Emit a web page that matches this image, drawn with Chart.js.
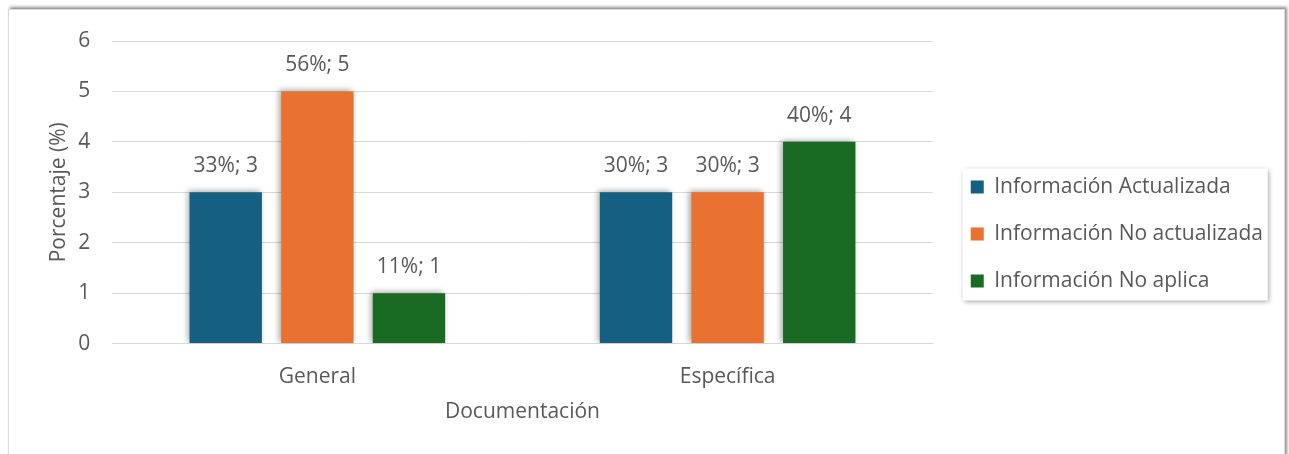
<!DOCTYPE html>
<html>
<head>
<meta charset="utf-8">
<script src="https://cdn.jsdelivr.net/npm/chart.js@4/dist/chart.umd.min.js"></script>
<style>
  html, body { margin: 0; padding: 0; background: #fff; }
  #wrap { position: relative; width: 1289px; height: 454px; overflow: hidden; }
  #frame {
    position: absolute; left: 8px; top: 9px; width: 1275px; height: 460px;
    border: 1px solid #d9d9d9;
    box-shadow: 2px -2px 3px rgba(0,0,0,0.45);
  }
  canvas { position: absolute; left: 0; top: 0; }
</style>
</head>
<body>
<div id="wrap">
  <div id="frame"></div>
  <canvas id="chart" width="1289" height="454"></canvas>
</div>
<script>
const categories = ["General", "Específica"];
const seriesNames = ["Información Actualizada", "Información No actualizada", "Información No aplica"];
const actualizada = [3, 3];
const noActualizada = [5, 3];
const noAplica = [1, 4];
const pctActualizada = [33, 30];
const pctNoActualizada = [56, 30];
const pctNoAplica = [11, 40];
const colors = ["#156082", "#E97132", "#196B24"];

const FONT = "'Open Sans', sans-serif";
const SIZE = 21;
const TEXT = "#595959";

// etiquetas "xx%; n" encima de cada barra
const barLabels = {
    id: "barLabels",
    beforeDatasetsDraw(chart) {
        const ctx = chart.ctx;
        ctx.save();
        ctx.shadowColor = "rgba(0,0,0,0.35)";
        ctx.shadowBlur = 6;
        ctx.shadowOffsetX = -2;
        ctx.shadowOffsetY = -1;
    },
    afterDatasetsDraw(chart) {
        const ctx = chart.ctx;
        ctx.restore();
        ctx.save();
        ctx.font = SIZE + "px " + FONT;
        ctx.fillStyle = TEXT;
        ctx.textAlign = "center";
        ctx.textBaseline = "middle";
        chart.data.datasets.forEach((ds, i) => {
            chart.getDatasetMeta(i).data.forEach((bar, j) => {
                ctx.fillText(ds.pct[j] + "%; " + ds.data[j], bar.x, bar.y - 26);
            });
        });
        ctx.restore();
    },
};

// caja con sombra detrás de la leyenda
const legendBox = {
    id: "legendBox",
    afterLayout(chart) {
        chart.legend.left += 12;
        chart.legend.right += 12;
        chart.legend.top += 1;
        chart.legend.bottom += 1;
    },
    beforeDraw(chart) {
        const boxes = chart.legend.legendHitBoxes;
        if (!boxes || !boxes.length) return;
        const ctx = chart.ctx;
        const last = boxes[boxes.length - 1];
        const x1 = boxes[0].left - 8;
        const y1 = boxes[0].top - 8;
        const x2 = x1 + 305;
        const y2 = last.top + last.height + 9;
        ctx.save();
        ctx.shadowColor = "rgba(0,0,0,0.4)";
        ctx.shadowBlur = 5;
        ctx.shadowOffsetX = 1;
        ctx.shadowOffsetY = 1;
        ctx.fillStyle = "#fff";
        ctx.fillRect(x1, y1, x2 - x1, y2 - y1);
        ctx.restore();
    },
};

new Chart(document.getElementById("chart"), {
    type: "bar",
    data: {
        labels: categories,
        datasets: [
            { label: seriesNames[0], data: actualizada, pct: pctActualizada, backgroundColor: colors[0] },
            { label: seriesNames[1], data: noActualizada, pct: pctNoActualizada, backgroundColor: colors[1] },
            { label: seriesNames[2], data: noAplica, pct: pctNoAplica, backgroundColor: colors[2] },
        ],
    },
    plugins: [barLabels, legendBox],
    options: {
        responsive: false,
        animation: false,
        categoryPercentage: 0.67,
        barPercentage: 0.79,
        layout: {
            padding: { left: 46, top: 41, right: 28, bottom: 29 },
        },
        plugins: {
            tooltip: { enabled: false },
            legend: {
                position: "right",
                maxWidth: 360,
                labels: {
                    color: TEXT,
                    font: { family: FONT, size: SIZE },
                    boxWidth: 13,
                    boxHeight: 13,
                    padding: 26,
                },
            },
        },
        scales: {
            x: {
                grid: { display: false, drawTicks: false },
                border: { display: true, color: "#d9d9d9" },
                ticks: { color: TEXT, font: { family: FONT, size: SIZE }, padding: 21 },
                title: {
                    display: true,
                    text: "Documentación",
                    color: TEXT,
                    font: { family: FONT, size: SIZE },
                    padding: { top: -11, bottom: 0 },
                },
            },
            y: {
                min: 0,
                max: 6,
                ticks: { stepSize: 1, color: TEXT, font: { family: FONT, size: SIZE }, padding: 22 },
                grid: { color: "#d9d9d9", drawTicks: false },
                border: { display: false },
                title: {
                    display: true,
                    text: "Porcentaje (%)",
                    color: TEXT,
                    font: { family: FONT, size: SIZE },
                    padding: { top: 0, bottom: -15 },
                },
            },
        },
    },
});
</script>
</body>
</html>
